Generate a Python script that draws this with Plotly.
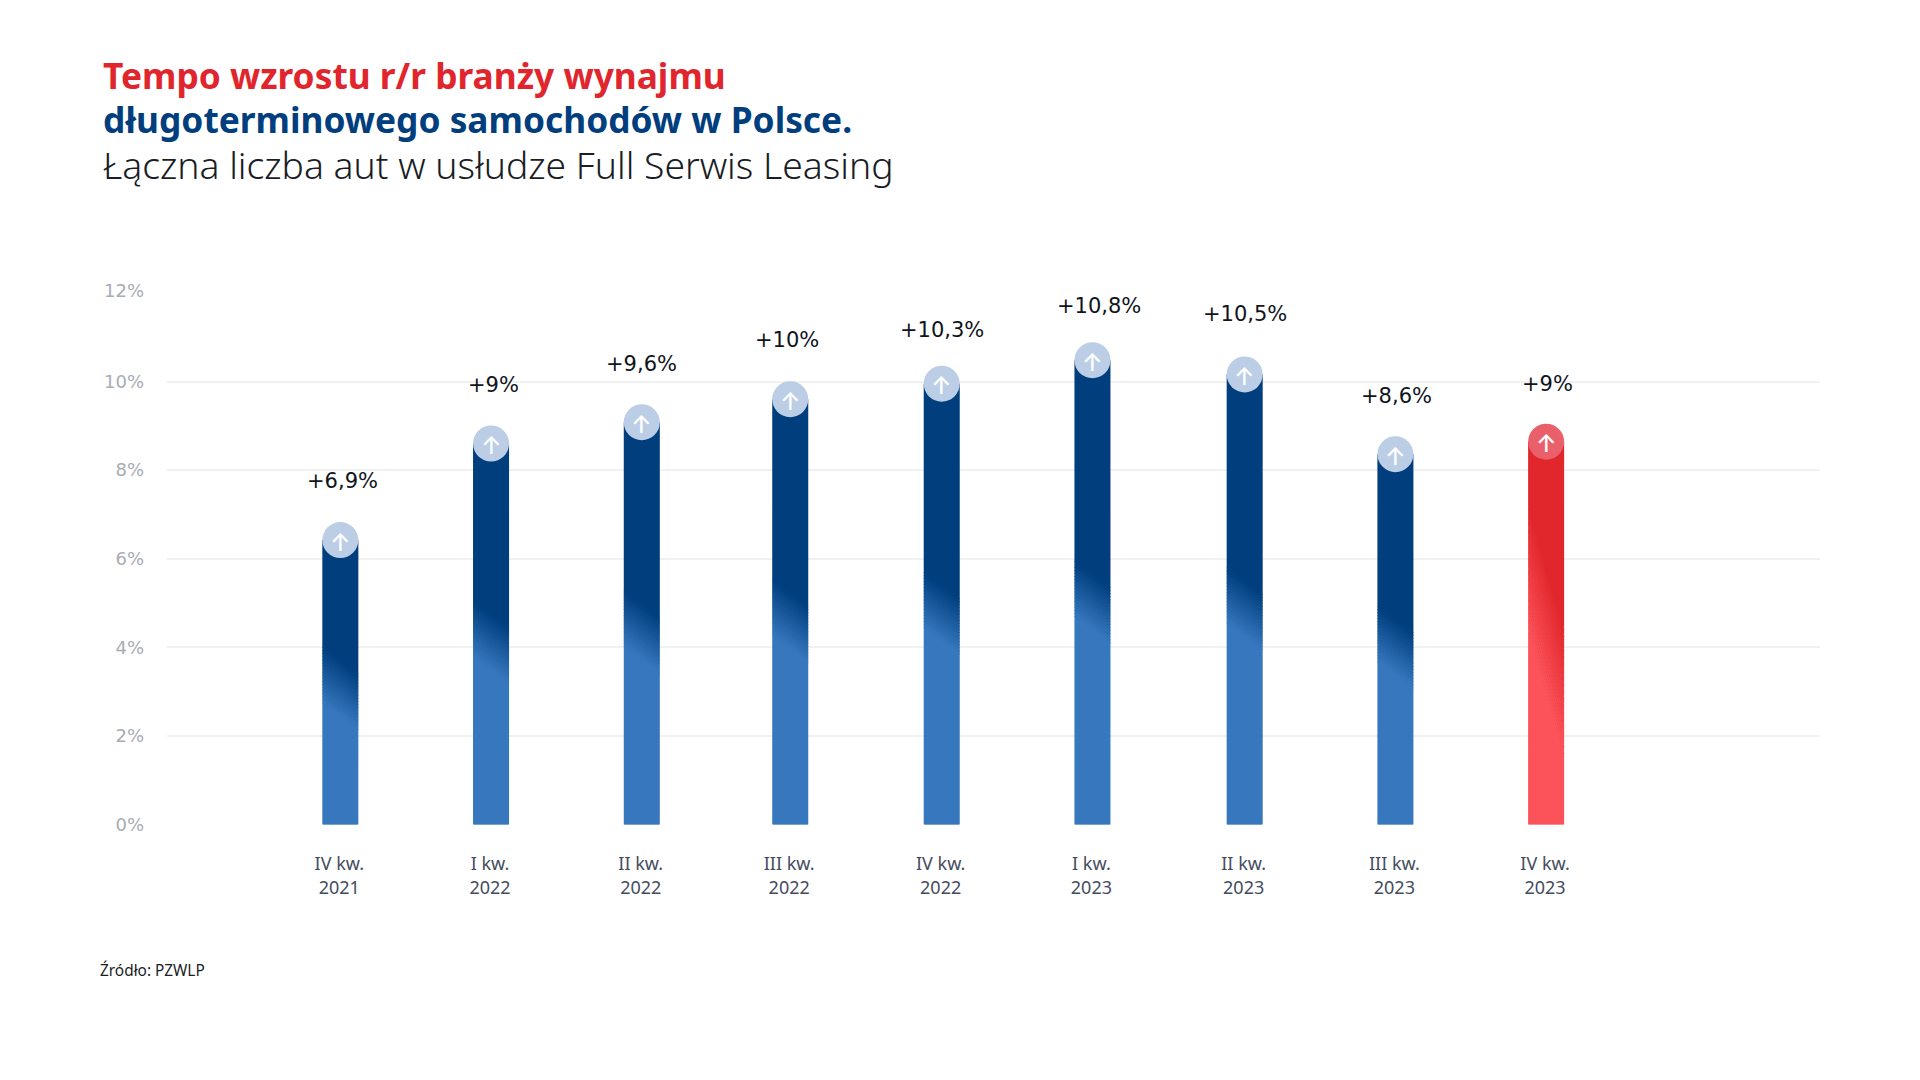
import plotly.graph_objects as go

# Dane
quarters = ["IV kw.<br>2021", "I kw.<br>2022", "II kw.<br>2022", "III kw.<br>2022", "IV kw.<br>2022",
            "I kw.<br>2023", "II kw.<br>2023", "III kw.<br>2023", "IV kw.<br>2023"]
growth_labels = ["+6,9%", "+9%", "+9,6%", "+10%", "+10,3%", "+10,8%", "+10,5%", "+8,6%", "+9%"]
bar_tops = [6.42, 8.60, 9.08, 9.60, 9.95, 10.48, 10.16, 8.36, 8.64]
y_ticks = [0, 2, 4, 6, 8, 10, 12.05]
y_tick_labels = ["0%", "2%", "4%", "6%", "8%", "10%", "12%"]
x_pos = [0, 1, 2, 2.985, 3.99, 4.99, 6, 7, 8]

W, H = 1920, 1080
BAR_W = 0.239
n_blue = len(bar_tops) - 1  # ostatni slupek jest czerwony

blue = {"dark": (0, 62, 126), "light": (54, 119, 189), "circle": "#BCCDE6", "tilt": 0.6, "band": 1.25, "at": 0.48}
red = {"dark": (225, 39, 44), "light": (252, 83, 90), "circle": "#E9606B", "tilt": 2.8, "band": 2.8, "at": 0.51}
STEPS = 18


def mix(a, b, t):
    return "rgb(%d,%d,%d)" % tuple(round(a[k] + (b[k] - a[k]) * t) for k in range(3))


def quad(i, high, low, st, tilt_low=True):
    # rownoleglobok na szerokosci slupka, gorna krawedz ukosna
    left, right = x_pos[i] - BAR_W / 2, x_pos[i] + BAR_W / 2
    t = st["tilt"] / 2
    dl = t if tilt_low else 0
    return ([left, right, right, left, left, None],
            [high + t, high - t, low - dl, low + dl, high + t, None])


def filled(xs, ys, color):
    return go.Scatter(x=xs, y=ys, mode="none", fill="toself", fillcolor=color, hoverinfo="skip", showlegend=False)


def bar_traces(idx, st):
    out = []
    # ciemna gora
    xs, ys = [], []
    for i in idx:
        left, right = x_pos[i] - BAR_W / 2, x_pos[i] + BAR_W / 2
        edge = bar_tops[i] * st["at"] + st["band"] / 2
        xs += [left, right, right, left, left, None]
        ys += [bar_tops[i], bar_tops[i], edge - st["tilt"] / 2 - 0.02, edge + st["tilt"] / 2 - 0.02, bar_tops[i], None]
    out.append(filled(xs, ys, mix(st["dark"], st["dark"], 0)))
    # ukosny gradient
    for s in range(STEPS):
        xs, ys = [], []
        for i in idx:
            high = bar_tops[i] * st["at"] + st["band"] / 2 - st["band"] * s / STEPS
            qx, qy = quad(i, high, high - st["band"] / STEPS - 0.02, st)
            xs += qx
            ys += qy
        out.append(filled(xs, ys, mix(st["dark"], st["light"], (s + 0.5) / STEPS)))
    # jasny dol
    xs, ys = [], []
    for i in idx:
        qx, qy = quad(i, bar_tops[i] * st["at"] - st["band"] / 2, -0.035, st, tilt_low=False)
        xs += qx
        ys += qy
    out.append(filled(xs, ys, mix(st["light"], st["light"], 0)))
    return out


fig = go.Figure()

# wlasciwe slupki, przykryte z wierzchu gradientem
fig.add_trace(go.Bar(x=x_pos, y=bar_tops, width=BAR_W * 0.96, showlegend=False,
                     marker=dict(color=[mix(blue["dark"], blue["dark"], 0)] * n_blue + [mix(red["dark"], red["dark"], 0)],
                                 line_width=0)))

for tr in bar_traces(range(n_blue), blue) + bar_traces([n_blue], red):
    fig.add_trace(tr)

# kola na szczycie slupkow
fig.add_trace(go.Scatter(x=x_pos, y=bar_tops, mode="markers", showlegend=False,
                         marker=dict(size=36, color=[blue["circle"]] * n_blue + [red["circle"]], line_width=0)))

# strzalki i etykiety wartosci
label_dx = [2, 2, 0, -3, 0, 7, 0, 1, 1]
label_dy = [59, 59, 58, 59, 54, 54, 60, 58, 58]
for i, txt in enumerate(growth_labels):
    fig.add_annotation(x=x_pos[i], y=bar_tops[i], text="↑", showarrow=False, yshift=-2,
                       font=dict(family="Inter", size=24, weight=500, color="white"))
    fig.add_annotation(x=x_pos[i], y=bar_tops[i], text=txt, showarrow=False, xshift=label_dx[i], yshift=label_dy[i],
                       font=dict(family="DejaVu Sans", size=21, color="#10141C"))

# tytul i zrodlo
fig.add_annotation(x=101 / W, y=1 - 75 / H, xref="paper", yref="paper", xanchor="left", yanchor="middle", showarrow=False,
                   text="<b>Tempo wzrostu r/r branży wynajmu</b>",
                   font=dict(family="Noto Sans", size=35.3, color="#E1252D"))
fig.add_annotation(x=101 / W, y=1 - 119 / H, xref="paper", yref="paper", xanchor="left", yanchor="middle", showarrow=False,
                   text="<b>długoterminowego samochodów w Polsce.</b>",
                   font=dict(family="Noto Sans", size=35.3, color="#003E7E"))
fig.add_annotation(x=101 / W, y=1 - 164 / H, xref="paper", yref="paper", xanchor="left", yanchor="middle", showarrow=False,
                   text="Łączna liczba aut w usłudze Full Serwis Leasing",
                   font=dict(family="Noto Sans", size=37.3, weight=300, color="#1A1D26"))
fig.add_annotation(x=98 / W, y=1 - 970 / H, xref="paper", yref="paper", xanchor="left", yanchor="middle", showarrow=False,
                   text="Źródło: PZWLP", font=dict(family="Noto Sans", size=15.4, color="#1A1D26"))

fig.update_layout(width=W, height=H, margin=dict(l=0, r=0, t=0, b=0), barmode="overlay",
                  paper_bgcolor="white", plot_bgcolor="white", showlegend=False,
                  xaxis=dict(domain=[167 / W, 1820 / W], range=[-1.15, 9.817], tickmode="array", automargin=False,
                             tickvals=[p - 0.007 for p in x_pos], ticktext=quarters, showgrid=False, zeroline=False,
                             showline=False, ticklabelstandoff=27,
                             tickfont=dict(family="Noto Sans", size=18, color="#444C5E")),
                  yaxis=dict(domain=[1 - 824.4 / H, 1 - 290.7 / H], range=[0, 12.05], tickmode="array", automargin=False,
                             tickvals=y_ticks, ticktext=y_tick_labels, gridcolor="#F1F1F2", gridwidth=2,
                             zeroline=False, showline=False, ticklabelstandoff=22,
                             tickfont=dict(family="DejaVu Sans", size=18, color="#A8ACB3")))

fig.write_html("out.html", config={"displayModeBar": False}, post_script="document.body.style.margin='0';")
